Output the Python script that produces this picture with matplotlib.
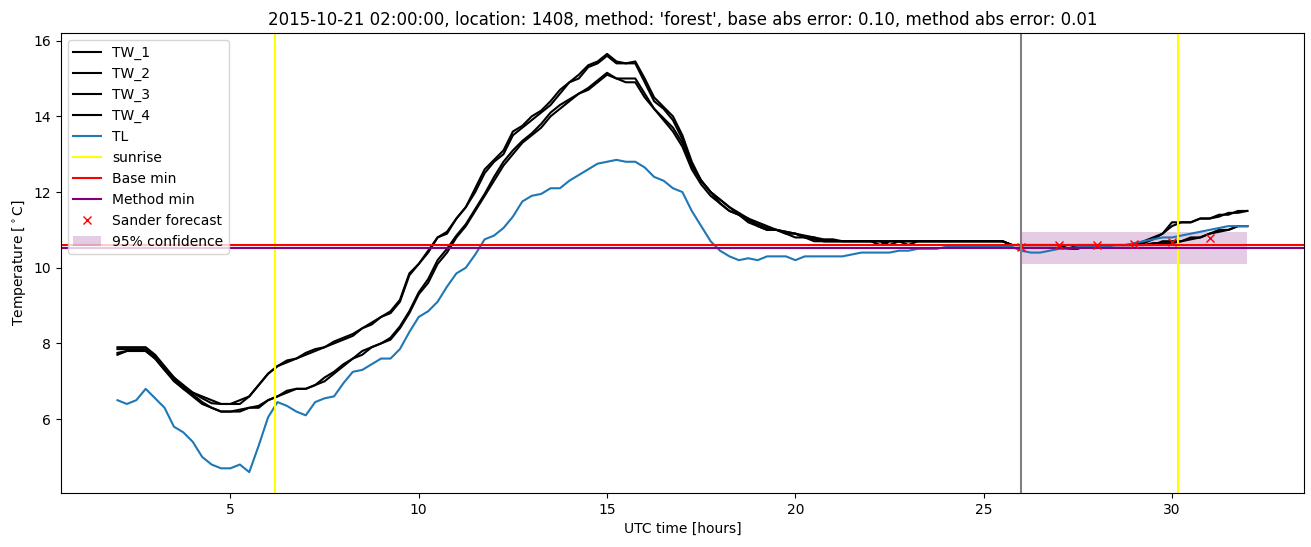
import numpy as np
import matplotlib
matplotlib.use('Agg')
import matplotlib.pyplot as plt

# time axis: 02:00 -> 32:00 in quarter hours
hours = np.linspace(2, 32, 121)

TW_1 = [7.85, 7.85, 7.85, 7.85, 7.65, 7.35, 7.1, 6.85,
        6.7, 6.55, 6.42, 6.4, 6.4, 6.5, 6.6, 6.9,
        7.2, 7.4, 7.55, 7.6, 7.75, 7.85, 7.9, 8.05,
        8.15, 8.25, 8.4, 8.55, 8.7, 8.85, 9.15, 9.85,
        10.1, 10.45, 10.8, 10.95, 11.3, 11.6, 12.1, 12.6,
        12.85, 13.1, 13.6, 13.75, 14.0, 14.15, 14.4, 14.7,
        14.9, 15.1, 15.35, 15.45, 15.65, 15.45, 15.4, 15.45,
        15.0, 14.5, 14.25, 14.0, 13.5, 12.8, 12.3, 12.0,
        11.8, 11.6, 11.4, 11.25, 11.15, 11.05, 11.0, 10.95,
        10.9, 10.85, 10.8, 10.75, 10.75, 10.7, 10.7, 10.7,
        10.7, 10.7, 10.7, 10.7, 10.7, 10.7, 10.7, 10.7,
        10.7, 10.7, 10.7, 10.7, 10.7, 10.7, 10.7, 10.6,
        10.6, 10.6, 10.6, 10.6, 10.6, 10.6, 10.6, 10.6,
        10.6, 10.6, 10.6, 10.6, 10.6, 10.65, 10.75, 10.9,
        11.1, 11.2, 11.2, 11.3, 11.3, 11.35, 11.45, 11.45,
        11.5]
TW_2 = [7.9, 7.9, 7.9, 7.9, 7.7, 7.4, 7.1, 6.9,
        6.7, 6.6, 6.5, 6.4, 6.4, 6.4, 6.6, 6.9,
        7.2, 7.4, 7.5, 7.6, 7.7, 7.8, 7.9, 8.0,
        8.1, 8.2, 8.4, 8.5, 8.7, 8.8, 9.1, 9.8,
        10.1, 10.4, 10.8, 10.9, 11.3, 11.6, 12.0, 12.5,
        12.8, 13.0, 13.5, 13.7, 13.9, 14.1, 14.3, 14.6,
        14.9, 15.0, 15.3, 15.4, 15.6, 15.4, 15.4, 15.4,
        14.9, 14.4, 14.2, 13.9, 13.4, 12.7, 12.3, 12.0,
        11.7, 11.5, 11.4, 11.2, 11.1, 11.0, 11.0, 10.9,
        10.9, 10.8, 10.8, 10.7, 10.7, 10.7, 10.7, 10.7,
        10.7, 10.7, 10.6, 10.7, 10.6, 10.7, 10.7, 10.7,
        10.7, 10.7, 10.7, 10.7, 10.7, 10.7, 10.7, 10.6,
        10.6, 10.6, 10.6, 10.6, 10.6, 10.6, 10.6, 10.6,
        10.6, 10.6, 10.6, 10.6, 10.6, 10.7, 10.8, 10.9,
        11.2, 11.2, 11.2, 11.3, 11.3, 11.4, 11.4, 11.5,
        11.5]
TW_3 = [7.75, 7.8, 7.8, 7.8, 7.6, 7.3, 7.05, 6.8,
        6.65, 6.45, 6.3, 6.2, 6.2, 6.25, 6.3, 6.35,
        6.5, 6.6, 6.75, 6.8, 6.8, 6.9, 7.1, 7.25,
        7.45, 7.6, 7.8, 7.9, 8.0, 8.15, 8.45, 8.85,
        9.35, 9.7, 10.2, 10.5, 10.85, 11.15, 11.55, 11.95,
        12.4, 12.8, 13.1, 13.35, 13.55, 13.8, 14.1, 14.3,
        14.45, 14.6, 14.75, 14.95, 15.15, 15.0, 15.0, 15.0,
        14.6, 14.2, 13.95, 13.7, 13.3, 12.7, 12.3, 12.0,
        11.8, 11.6, 11.45, 11.3, 11.2, 11.1, 11.0, 10.95,
        10.9, 10.8, 10.75, 10.7, 10.7, 10.7, 10.7, 10.7,
        10.7, 10.7, 10.7, 10.7, 10.7, 10.7, 10.7, 10.7,
        10.7, 10.7, 10.7, 10.7, 10.7, 10.7, 10.7, 10.6,
        10.6, 10.6, 10.6, 10.6, 10.6, 10.5, 10.6, 10.6,
        10.6, 10.6, 10.6, 10.6, 10.6, 10.6, 10.65, 10.65,
        10.65, 10.7, 10.75, 10.8, 10.9, 10.95, 11.0, 11.1,
        11.1]
TW_4 = [7.7, 7.8, 7.8, 7.8, 7.6, 7.3, 7.0, 6.8,
        6.6, 6.4, 6.3, 6.2, 6.2, 6.2, 6.3, 6.3,
        6.5, 6.6, 6.7, 6.8, 6.8, 6.9, 7.0, 7.2,
        7.4, 7.6, 7.7, 7.9, 8.0, 8.1, 8.4, 8.8,
        9.3, 9.6, 10.1, 10.4, 10.8, 11.1, 11.5, 11.9,
        12.3, 12.7, 13.0, 13.3, 13.5, 13.7, 14.0, 14.2,
        14.4, 14.6, 14.7, 14.9, 15.1, 15.0, 14.9, 14.9,
        14.5, 14.2, 13.9, 13.6, 13.2, 12.6, 12.2, 11.9,
        11.7, 11.5, 11.4, 11.3, 11.1, 11.0, 11.0, 10.9,
        10.8, 10.8, 10.7, 10.7, 10.7, 10.7, 10.7, 10.7,
        10.7, 10.6, 10.7, 10.7, 10.7, 10.7, 10.7, 10.7,
        10.7, 10.7, 10.7, 10.7, 10.7, 10.7, 10.7, 10.6,
        10.6, 10.6, 10.6, 10.6, 10.6, 10.5, 10.5, 10.6,
        10.6, 10.6, 10.6, 10.6, 10.6, 10.6, 10.6, 10.7,
        10.7, 10.7, 10.8, 10.8, 10.9, 11.0, 11.0, 11.1,
        11.1]
TL = [6.5, 6.4, 6.5, 6.8, 6.55, 6.3, 5.8, 5.65,
      5.4, 5.0, 4.8, 4.7, 4.7, 4.8, 4.6, 5.3,
      6.05, 6.45, 6.35, 6.2, 6.1, 6.45, 6.55, 6.6,
      6.95, 7.25, 7.3, 7.45, 7.6, 7.6, 7.85, 8.3,
      8.7, 8.85, 9.1, 9.5, 9.85, 10.0, 10.35, 10.75,
      10.85, 11.05, 11.35, 11.75, 11.9, 11.95, 12.1, 12.1,
      12.3, 12.45, 12.6, 12.75, 12.8, 12.85, 12.8, 12.8,
      12.65, 12.4, 12.3, 12.1, 12.0, 11.5, 11.1, 10.7,
      10.45, 10.3, 10.2, 10.25, 10.2, 10.3, 10.3, 10.3,
      10.2, 10.3, 10.3, 10.3, 10.3, 10.3, 10.35, 10.4,
      10.4, 10.4, 10.4, 10.45, 10.45, 10.5, 10.5, 10.5,
      10.55, 10.55, 10.55, 10.55, 10.55, 10.55, 10.55, 10.55,
      10.45, 10.4, 10.4, 10.45, 10.5, 10.5, 10.55, 10.55,
      10.55, 10.55, 10.6, 10.6, 10.65, 10.7, 10.75, 10.8,
      10.8, 10.85, 10.9, 10.95, 11.0, 11.05, 11.1, 11.1,
      11.1]

sunrise = [6.17, 30.15]
forecast_start = 26.0
base_min = 10.59
method_min = 10.51
sander_t = [26, 27, 28, 29, 30, 31]
sander_v = [10.56, 10.6, 10.6, 10.63, 10.69, 10.78]
conf_t = [26, 32]
conf_lo = [10.09, 10.09]
conf_hi = [10.95, 10.95]

fig = plt.figure(figsize=(13.11, 5.47), dpi=100)
ax = fig.add_axes([0.0465, 0.0987, 0.948, 0.841])

for name, tw in zip(['TW_1', 'TW_2', 'TW_3', 'TW_4'], [TW_1, TW_2, TW_3, TW_4]):
    ax.plot(hours, tw, color='black', label=name)
ax.plot(hours, TL, label='TL')
ax.axvline(sunrise[0], color='yellow', label='sunrise')
ax.axvline(sunrise[1], color='yellow')
ax.axhline(base_min, color='red', label='Base min')
ax.axhline(method_min, color='purple', label='Method min')
ax.plot(sander_t, sander_v, 'rx', label='Sander forecast')
ax.fill_between(conf_t, conf_lo, conf_hi, color='purple', alpha=0.2,
                linewidth=0, label='95% confidence')
ax.axvline(forecast_start, color='grey')

ax.set_title("2015-10-21 02:00:00, location: 1408, method: 'forest', "
             "base abs error: 0.10, method abs error: 0.01")
ax.set_xlabel('UTC time [hours]')
ax.set_ylabel(r'Temperature [$^\circ$C]')
ax.legend(loc='upper left')

fig.savefig('out.png', dpi=100)
